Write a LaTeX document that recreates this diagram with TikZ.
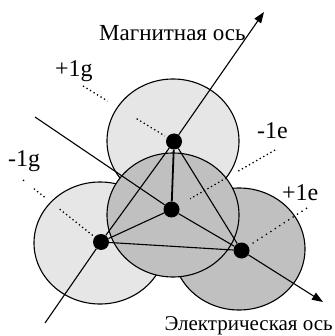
\documentclass[tikz,border=0pt]{standalone}
\usepackage{fontspec}
\setmainfont{Liberation Serif}
\usetikzlibrary{arrows.meta,calc}
\definecolor{disklight}{RGB}{230,230,230}
\definecolor{diskdark}{RGB}{192,192,192}

\begin{document}
\begin{tikzpicture}[x=1pt, y=-1pt, >={Triangle[length=11pt,width=8pt]},
  lightdisk/.style={fill=disklight, draw=black, line width=1.1pt},
  darkdisk/.style={fill=diskdark, draw=black, line width=1.1pt},
  atom/.style={circle, fill=black, inner sep=0pt, minimum size=16pt},
  axis/.style={line width=1.1pt},
  leader/.style={line width=1.3pt, dash pattern=on 1.3pt off 2.8pt},
  charge/.style={font=\fontsize{24}{26}\selectfont, inner sep=0pt, anchor=base west}]
  \useasboundingbox (0,0) rectangle (334,336);
  % disks
  \filldraw[lightdisk] (173,141) ellipse [x radius=66pt, y radius=62pt];
  \filldraw[lightdisk] (100,243) ellipse [x radius=66pt, y radius=61pt];
  \filldraw[darkdisk] (239,249) ellipse [x radius=66pt, y radius=61pt];
  \filldraw[darkdisk] (173,215) ellipse [x radius=66pt, y radius=62pt];
  % atoms
  \node[atom] (T) at (174,141.5) {};
  \node[atom] (C) at (171.5,209.5) {};
  \node[atom] (L) at (101,242) {};
  \node[atom] (R) at (241.5,250.5) {};
  % axes
  \coordinate (m0) at (45,323);
  \coordinate (m1) at (264,12);
  \coordinate (e0) at (35,117);
  \coordinate (e1) at (323,302);
  \draw[axis, ->] (m0) -- (L) -- (T) -- (m1);
  \draw[axis, ->] (e0) -- (C) -- (R) -- (e1);
  \draw[axis] (T) -- (R) -- (L) -- (C);
  \draw[axis, line width=1.8pt] (T) -- (C);
  % axis names
  \node[font=\fontsize{23}{25}\selectfont, inner sep=0pt, anchor=base west] (mag) at (99,41) {Магнитная ось};
  \node[font=\fontsize{21}{23}\selectfont, inner sep=0pt, anchor=base east] (ele) at (333,330) {Электрическая ось};
  % charges
  \node[charge] (pg) at (55,77) {+1g};
  \node[charge] (mg) at (8,167) {-1g};
  \node[charge] (me) at (257,139) {-1e};
  \node[charge] (pe) at (282,200) {+1e};
  \coordinate (pg0) at (83,86);
  \coordinate (mg0) at (23,180);
  \coordinate (me0) at (275,150);
  \coordinate (pe0) at (307,208);
  \draw[leader] (pg0) -- ($(pg0)!0.27!(T)$) ($(pg0)!0.59!(T)$) -- ($(pg0)!0.9!(T)$);
  \draw[leader] (mg0) -- ($(mg0)!0.03!(L)$) ($(mg0)!0.14!(L)$) -- ($(mg0)!0.3!(L)$) ($(mg0)!0.47!(L)$) -- ($(mg0)!0.9!(L)$);
  \draw[leader] (me0) -- ($(me0)!0.36!(C)$) ($(me0)!0.47!(C)$) -- ($(me0)!0.82!(C)$);
  \draw[leader, dash pattern=on 1.3pt off 4pt] (pe0) -- ($(pe0)!0.85!(R)$);
\end{tikzpicture}
\end{document}
